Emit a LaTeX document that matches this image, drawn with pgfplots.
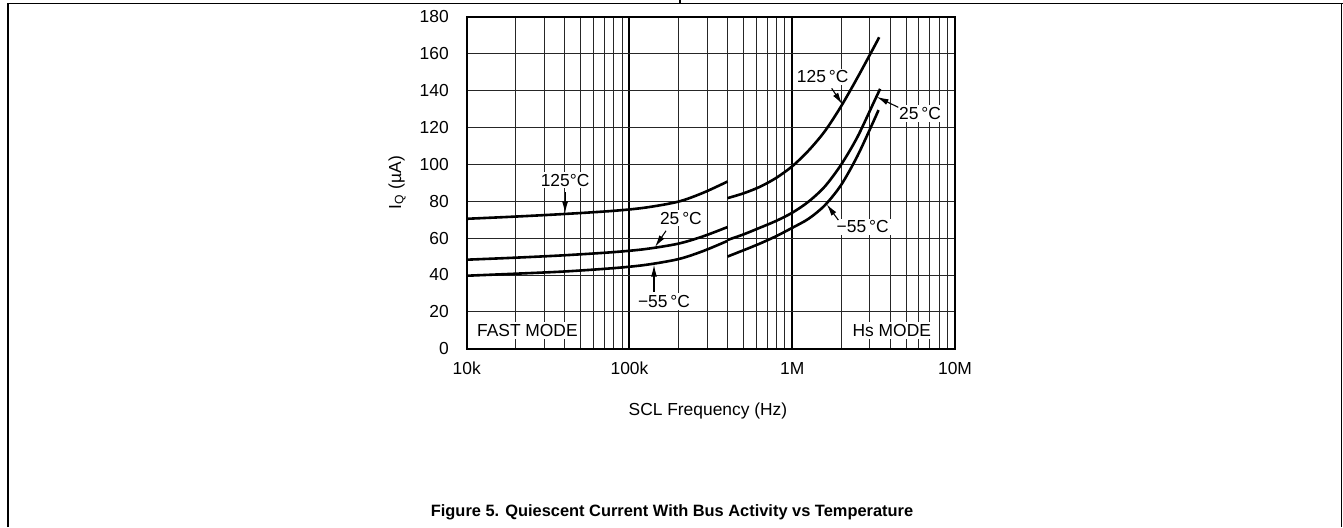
\documentclass[border=0pt]{standalone}
\usepackage{fontspec}
\setmainfont{Liberation Sans}
\usepackage{pgfplots}
\pgfplotsset{compat=1.18}
\usetikzlibrary{arrows.meta}

\begin{document}
\begin{tikzpicture}[x=0.5pt,y=0.5pt]
\path[use as bounding box] (0,0) rectangle (1343,527);
\begin{axis}[
  at={(233.35pt,89.15pt)}, anchor=south west,
  scale only axis, width=244.15pt, height=165.85pt,
  xmode=log, xmin=1e4, xmax=1e7, ymin=0, ymax=180,
  xtick={1e4,1e5,1e6,1e7}, xticklabels={10k,100k,1M,10M},
  minor xtick={2e4,3e4,4e4,5e4,6e4,7e4,8e4,9e4,2e5,3e5,4e5,5e5,6e5,7e5,8e5,9e5,2e6,3e6,4e6,5e6,6e6,7e6,8e6,9e6},
  ytick={0,20,...,180},
  xmajorgrids, xminorgrids, ymajorgrids,
  major x grid style={black, line width=1pt},
  minor x grid style={black!85, line width=0.45pt},
  major y grid style={black!85, line width=0.45pt},
  tick style={draw=none},
  major tick length=0pt, minor tick length=0pt,
  axis line style={line width=1pt},
  font=\fontsize{8.7}{10}\selectfont,
  ticklabel style={font=\fontsize{8.7}{10}\selectfont},
  yticklabel style={anchor=east, inner sep=0pt, xshift=-8.8pt},
  xticklabel style={anchor=north, inner sep=0pt, yshift=-6.5pt},
  /pgf/number format/assume math mode=true,
  xlabel={SCL Frequency (Hz)}, ylabel={I\textsubscript{Q} (µA)},
  xlabel style={at={(axis description cs:0.494,-0.188)}, anchor=center, inner sep=0pt},
  ylabel style={at={(axis description cs:-0.1427,0.5)}, anchor=center, inner sep=0pt},
  clip=false,
]
\pgfplotsset{curve/.style={black, solid, line width=1.3pt, smooth, mark=none}}
% Fast mode
\addplot[curve] coordinates {(10000,70.5) (19950,71.7) (39800,73.1) (79400,74.8) (125900,76.6) (199500,79.8) (281800,84.5) (400000,90.7)};
\addplot[curve] coordinates {(10000,48.3) (19950,49.4) (39800,50.7) (79400,52.4) (125900,54.1) (199500,57.0) (281800,60.9) (400000,66.0)};
\addplot[curve] coordinates {(10000,39.6) (19950,40.7) (39800,41.9) (79400,43.7) (125900,45.5) (199500,48.6) (281800,52.9) (400000,58.5)};
% Hs mode
\addplot[curve] coordinates {(400000,81.7) (501000,84.3) (631000,87.8) (794000,92.6) (1000000,99.0) (1259000,107.5) (1585000,118.0) (1995000,131.5) (2512000,147.0) (3162000,163.3) (3420000,169.0)};
\addplot[curve] coordinates {(400000,59.0) (501000,62.0) (631000,65.6) (794000,69.3) (1000000,73.8) (1259000,79.8) (1585000,88.0) (1995000,99.8) (2512000,114.8) (3162000,133.5) (3467000,141.0)};
\addplot[curve] coordinates {(400000,50.0) (501000,53.4) (631000,57.0) (794000,61.0) (1000000,65.6) (1259000,70.5) (1585000,77.8) (1995000,88.8) (2512000,104.5) (3162000,123.5) (3388000,129.5)};

% annotations
\tikzset{lab/.style={fill=white, inner sep=1pt, font=\fontsize{8.7}{10}\selectfont},
         arr/.style={-{Latex[length=6pt,width=3pt]}, line width=0.55pt}}
\node[lab] at (axis cs:40200,91.5) {125°C};
\draw[arr] (axis cs:40200,84.9) -- (axis cs:40200,73.4);
\node[lab] at (axis cs:207000,70.8) {25\,°C};
\draw[arr] (axis cs:167700,64.0) -- (axis cs:143500,55.2);
\node[lab] at (axis cs:163000,25.7) {−55\,°C};
\draw[arr] (axis cs:141500,30.9) -- (axis cs:141500,45.6);
\node[lab] at (axis cs:1539000,147.6) {125\,°C};
\draw[arr] (axis cs:1747000,141.3) -- (axis cs:2030000,132.6);
\node[lab] at (axis cs:6100000,127.7) {25\,°C};
\draw[arr] (axis cs:4480000,131.0) -- (axis cs:3300000,136.7);
\node[lab] at (axis cs:2710000,66.2) {−55\,°C};
\draw[arr] (axis cs:1920000,69.8) -- (axis cs:1628000,78.4);
\node[lab, anchor=west] at (axis cs:11200,9.9) {FAST MODE};
\node[lab, anchor=east] at (axis cs:7360000,9.9) {Hs MODE};
\end{axis}
% frame
\draw[line width=0.6pt] (8,0) -- (8,523.7) -- (1343,523.7);
\draw[line width=0.6pt] (680,527) -- (680,523.7);
\draw[line width=0.6pt] (1341.8,0) -- (1341.8,523.7);
\node[font=\bfseries\fontsize{8.2}{10}\selectfont] at (672,15) {Figure 5. Quiescent Current With Bus Activity vs Temperature};
\end{tikzpicture}
\end{document}
